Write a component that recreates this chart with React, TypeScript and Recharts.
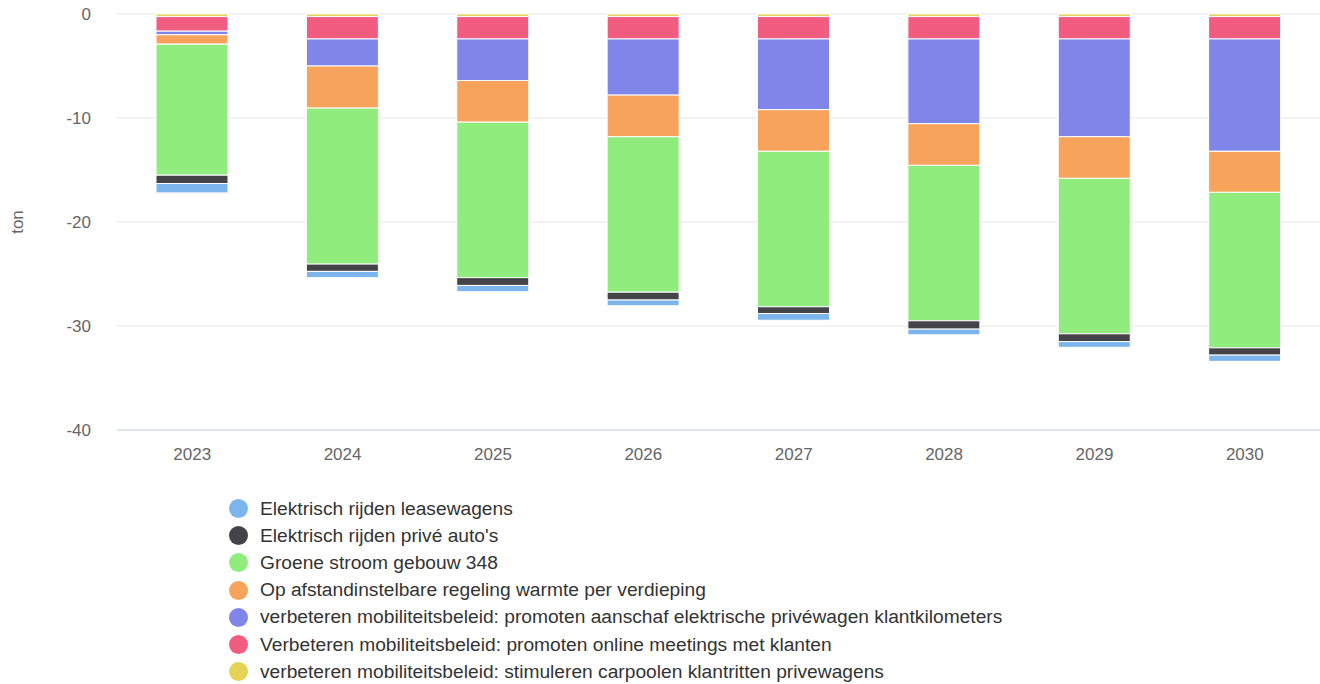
import { Bar, BarChart, CartesianGrid, XAxis, YAxis } from "recharts";

const years = ["2023", "2024", "2025", "2026", "2027", "2028", "2029", "2030"];

const leasewagens = [-0.9, -0.6, -0.6, -0.55, -0.65, -0.55, -0.55, -0.6];
const priveAutos = [-0.8, -0.7, -0.75, -0.75, -0.65, -0.8, -0.75, -0.7];
const groeneStroom = [-12.6, -15.0, -14.95, -14.95, -14.95, -14.95, -14.95, -14.95];
const warmte = [-0.9, -4.05, -4.0, -4.0, -4.0, -4.0, -4.0, -3.95];
const aanschaf = [-0.35, -2.6, -4.0, -5.4, -6.8, -8.15, -9.4, -10.8];
const onlineMeetings = [-1.4, -2.15, -2.15, -2.15, -2.15, -2.15, -2.15, -2.15];
const carpoolen = [-0.25, -0.25, -0.25, -0.25, -0.25, -0.25, -0.25, -0.25];

const yTicks = [0, -10, -20, -30, -40];

// legend order (Highcharts order); stacking in Recharts starts from the last one
const series = [
  { key: "lease", name: "Elektrisch rijden leasewagens", color: "#7cb5ec", values: leasewagens },
  { key: "prive", name: "Elektrisch rijden privé auto's", color: "#434348", values: priveAutos },
  { key: "groen", name: "Groene stroom gebouw 348", color: "#90ed7d", values: groeneStroom },
  { key: "warmte", name: "Op afstandinstelbare regeling warmte per verdieping", color: "#f7a35c", values: warmte },
  { key: "aanschaf", name: "verbeteren mobiliteitsbeleid: promoten aanschaf elektrische privéwagen klantkilometers", color: "#8085e9", values: aanschaf },
  { key: "online", name: "Verbeteren mobiliteitsbeleid: promoten online meetings met klanten", color: "#f15c80", values: onlineMeetings },
  { key: "carpool", name: "verbeteren mobiliteitsbeleid: stimuleren carpoolen klantritten privewagens", color: "#e4d354", values: carpoolen },
];

const data = years.map((year, i) => {
  const row: Record<string, string | number> = { year };
  series.forEach((s) => {
    row[s.key] = s.values[i];
  });
  return row;
});

const font = '"Liberation Sans", Arial, Helvetica, sans-serif';

export default function App() {
  const stackOrder = [...series].reverse();
  return (
    <div style={{ position: "absolute", top: 0, left: 0, width: 1320, height: 684, fontFamily: font }}>
      <BarChart
        width={1320}
        height={684}
        data={data}
        stackOffset="sign"
        margin={{ top: 14, right: 0, bottom: 224, left: 0 }}
      >
        <CartesianGrid vertical={false} stroke="#e6e6e6" />
        <XAxis
          dataKey="year"
          height={30}
          axisLine={{ stroke: "#ccd6eb" }}
          tickLine={false}
          tickSize={0}
          tickMargin={18}
          tick={{ fill: "#666666", fontSize: 17, fontFamily: font }}
        />
        <YAxis
          width={117}
          domain={[-40, 0]}
          ticks={yTicks}
          axisLine={false}
          tickLine={false}
          tickSize={0}
          tickMargin={26}
          tick={{ fill: "#666666", fontSize: 17, fontFamily: font }}
          label={{ value: "ton", angle: -90, position: "center", dx: -42, fill: "#666666", fontSize: 17, fontFamily: font }}
        />
        {stackOrder.map((s) => (
          <Bar
            key={s.key}
            dataKey={s.key}
            name={s.name}
            stackId="a"
            fill={s.color}
            stroke="#ffffff"
            strokeWidth={1}
            barSize={72}
            isAnimationActive={false}
          />
        ))}
      </BarChart>
      <div style={{ position: "absolute", left: 229, top: 495 }}>
        {series.map((s) => (
          <div key={s.key} style={{ display: "flex", alignItems: "center", height: 27.2 }}>
            <span
              style={{
                width: 19,
                height: 19,
                borderRadius: "50%",
                background: s.color,
                display: "inline-block",
                marginRight: 12,
                flexShrink: 0,
              }}
            />
            <span style={{ fontSize: 19.2, color: "#333333", whiteSpace: "nowrap" }}>{s.name}</span>
          </div>
        ))}
      </div>
    </div>
  );
}
